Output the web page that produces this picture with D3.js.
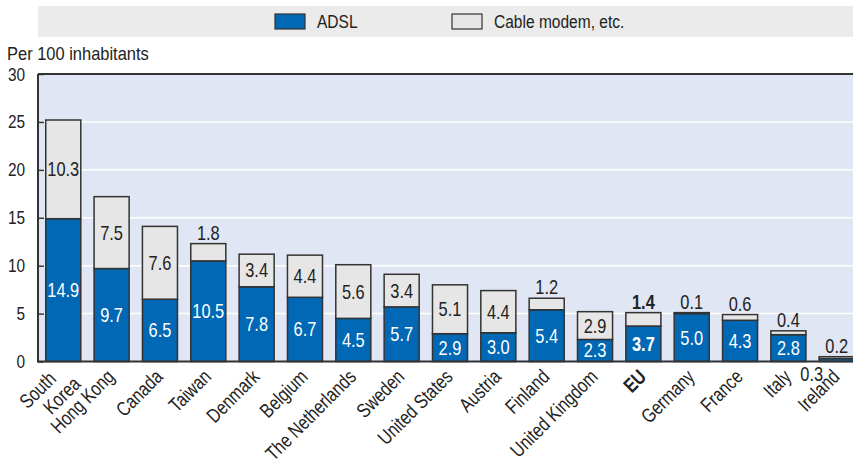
<!DOCTYPE html>
<html>
<head>
<meta charset="utf-8">
<script src="https://cdn.jsdelivr.net/npm/d3@7"></script>
<style>
  body { margin: 0; background: #fff; }
  svg text { font-family: "Liberation Sans", Arial, sans-serif; }
</style>
</head>
<body>
<svg id="chart" width="853" height="465"></svg>
<script>
const countries = [
  "South Korea", "Hong Kong", "Canada", "Taiwan", "Denmark", "Belgium",
  "The Netherlands", "Sweden", "United States", "Austria", "Finland",
  "United Kingdom", "EU", "Germany", "France", "Italy", "Ireland",
];
const adsl = [14.9, 9.7, 6.5, 10.5, 7.8, 6.7, 4.5, 5.7, 2.9, 3.0, 5.4, 2.3, 3.7, 5.0, 4.3, 2.8, 0.3];
const cable = [10.3, 7.5, 7.6, 1.8, 3.4, 4.4, 5.6, 3.4, 5.1, 4.4, 1.2, 2.9, 1.4, 0.1, 0.6, 0.4, 0.2];
const yTicks = [0, 5, 10, 15, 20, 25, 30];
const seriesNames = ["ADSL", "Cable modem, etc."];

const blue = "#0068b4";
const grey = "#e6e6e6";
const dark = "#333";
const ink = "#222";
const narrow = 0.82; // no narrow font installed, so squeeze Liberation Sans

const svg = d3.select("#chart");

const y = d3.scaleLinear().domain([0, 30]).range([361.5, 74]);
const x = d3
  .scaleBand()
  .domain(countries)
  .range([38, 862])
  .paddingInner(0.275)
  .paddingOuter(0.16);

// text helper: position by transform so the horizontal squeeze doesn't move it
const addText = (g, tx, ty, str, size, extra = "", sx = narrow) =>
  g
    .append("text")
    .attr("transform", `translate(${tx},${ty}) ${extra} scale(${sx},1)`)
    .attr("font-size", size)
    .attr("fill", ink)
    .text(str);

// legend band
svg.append("rect").attr("x", 38).attr("y", 6).attr("width", 815).attr("height", 31).attr("fill", "#ebebeb");
const legend = [
  { name: seriesNames[0], color: blue, x: 275 },
  { name: seriesNames[1], color: grey, x: 452 },
];
legend.forEach((l) => {
  svg.append("rect").attr("x", l.x).attr("y", 14).attr("width", 30).attr("height", 15)
    .attr("fill", l.color).attr("stroke", dark).attr("stroke-width", 1.2);
  addText(svg, l.x + 42, 28, l.name, 18.5, "", 0.84);
});

addText(svg, 7, 60, "Per 100 inhabitants", 18.5, "", 0.89);

// plot background and grid
svg.append("rect").attr("x", 38).attr("y", y(30)).attr("width", 815).attr("height", y(0) - y(30)).attr("fill", "#e0e6f3");
svg.append("g")
  .selectAll("line")
  .data(yTicks.filter((d) => d > 0 && d < 30))
  .enter()
  .append("line")
  .attr("x1", 38).attr("x2", 853)
  .attr("y1", (d) => y(d)).attr("y2", (d) => y(d))
  .attr("stroke", "#fff").attr("stroke-width", 1.5);

// y axis: ticks point inward, labels drawn by hand (squeezed)
const yAxis = d3.axisLeft(y).tickValues(yTicks).tickSize(-6).tickFormat("");
const gy = svg.append("g").attr("transform", "translate(38,0)").call(yAxis);
gy.select(".domain").remove();
gy.selectAll(".tick line").attr("stroke", dark).attr("stroke-width", 1.5);
const yl = svg.append("g").attr("text-anchor", "end");
yTicks.forEach((t) => addText(yl, 25, y(t) + 6.5, t, 17.5, "", 0.88));

// bars
const rows = countries.map((c, i) => ({ name: c, adsl: adsl[i], cable: cable[i], bold: c === "EU" }));

const bars = svg.append("g");
bars.selectAll(".adsl")
  .data(rows)
  .enter()
  .append("rect")
  .attr("class", "adsl")
  .attr("x", (d) => x(d.name))
  .attr("width", x.bandwidth())
  .attr("y", (d) => y(d.adsl))
  .attr("height", (d) => y(0) - y(d.adsl))
  .attr("fill", blue)
  .attr("stroke", dark)
  .attr("stroke-width", 1.5);

bars.selectAll(".cable")
  .data(rows)
  .enter()
  .append("rect")
  .attr("class", "cable")
  .attr("x", (d) => x(d.name))
  .attr("width", x.bandwidth())
  .attr("y", (d) => y(d.adsl + d.cable))
  .attr("height", (d) => y(d.adsl) - y(d.adsl + d.cable))
  .attr("fill", grey)
  .attr("stroke", dark)
  .attr("stroke-width", 1.5);

// frame: top, left, bottom
svg.append("line").attr("x1", 38).attr("x2", 853).attr("y1", y(30)).attr("y2", y(30)).attr("stroke", dark).attr("stroke-width", 2);
svg.append("line").attr("x1", 38).attr("x2", 38).attr("y1", y(30)).attr("y2", y(0)).attr("stroke", dark).attr("stroke-width", 2);
svg.append("line").attr("x1", 37).attr("x2", 853).attr("y1", y(0)).attr("y2", y(0)).attr("stroke", dark).attr("stroke-width", 2);

// value labels
const fmt = d3.format(".1f");
const labels = svg.append("g").attr("text-anchor", "middle");
rows.forEach((d) => {
  const cx = x(d.name) + x.bandwidth() / 2;
  const weight = d.bold ? "bold" : "normal";
  // adsl
  if (d.adsl >= 1) {
    addText(labels, cx, y(d.adsl / 2) + 7, fmt(d.adsl), 20)
      .attr("fill", "#fff").attr("font-weight", weight);
  } else {
    addText(labels, cx - 25, 381, fmt(d.adsl), 20);
  }
  // cable
  if (d.cable >= 2.5) {
    addText(labels, cx, y(d.adsl + d.cable / 2) + 7, fmt(d.cable), 20).attr("font-weight", weight);
  } else {
    addText(labels, cx, y(d.adsl + d.cable) - 4, fmt(d.cable), 20).attr("font-weight", weight);
  }
});

// category labels, rotated
const xl = svg.append("g").attr("text-anchor", "end");
rows.forEach((d) => {
  const cx = x(d.name) + x.bandwidth() / 2;
  if (d.name === "South Korea") {
    const t = addText(xl, cx - 6, 380, null, 20, "rotate(-45)", 0.8);
    t.append("tspan").attr("x", 0).attr("y", 0).text("South");
    t.append("tspan").attr("x", 17).attr("y", 21).text("Korea");
  } else {
    addText(xl, cx + 4, 378, d.name, 20, "rotate(-45)", 0.8)
      .attr("font-weight", d.bold ? "bold" : "normal");
  }
});
</script>
</body>
</html>
